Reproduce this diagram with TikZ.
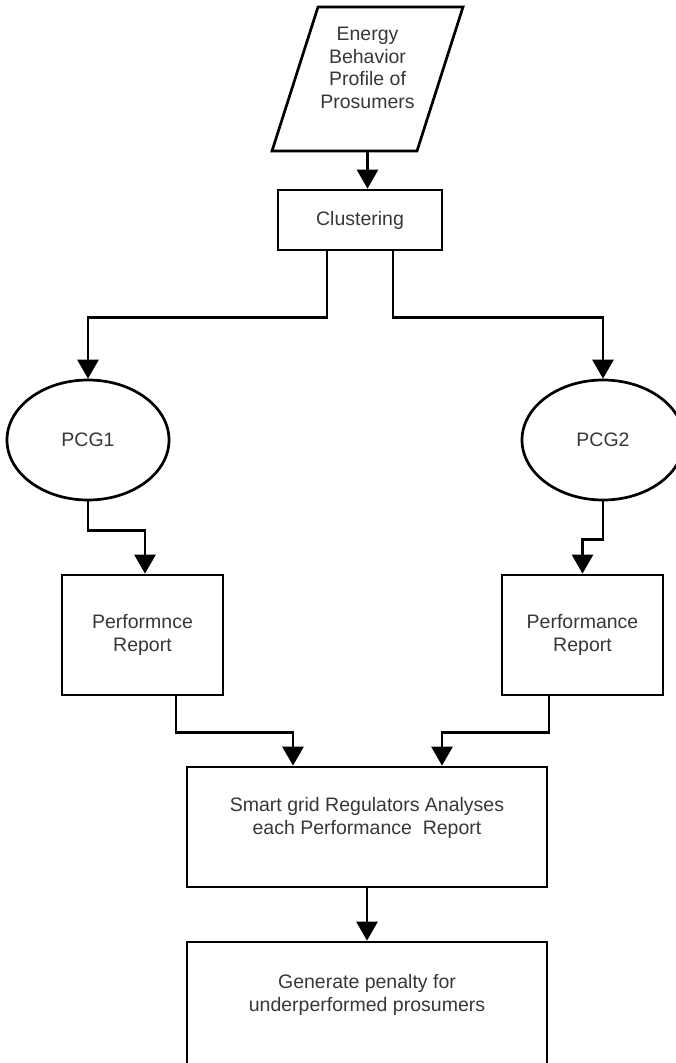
\documentclass[tikz,border=0pt]{standalone}
\usepackage{fontspec}
\setmainfont{Liberation Sans}
\usepackage{tikz}
\usetikzlibrary{shapes,arrows.meta,positioning}
\definecolor{mytext}{RGB}{55,55,55}

\begin{document}
\begin{tikzpicture}[x=1pt, y=-1pt, line width=2.7pt,
  every node/.style={font=\fontsize{19.5}{22.5}\selectfont, text=mytext, align=center},
  procbox/.style={draw, rectangle, inner sep=0pt},
  pcgnode/.style={draw, ellipse, minimum width=162pt, minimum height=120pt, inner sep=0pt},
  flow/.style={-{Triangle[length=19pt,width=21pt]}}]
  \useasboundingbox (0,0) rectangle (676,1063);
  % Input profile
  \node (prof) [minimum width=145pt, minimum height=144pt, inner sep=0pt, outer sep=0pt]
    at (367.5,79) {Energy\\Behavior\\Profile of\\Prosumers\\~};
  \draw ([xshift=23pt]prof.north west) -- ([xshift=23pt]prof.north east)
     -- ([xshift=-23pt]prof.south east) -- ([xshift=-23pt]prof.south west) -- cycle;
  % Process boxes
  \node (clus) [procbox, minimum width=164pt, minimum height=60pt] at (360,220) {Clustering};
  \node (pcg1) [pcgnode] at (88,440) {PCG1};
  \node (pcg2) [pcgnode] at (603,440) {PCG2};
  \node (perf1) [procbox, minimum width=161pt, minimum height=120pt] at (142.5,635) {Performnce\\Report};
  \node (perf2) [procbox, minimum width=161pt, minimum height=120pt] at (582.5,635) {Performance\\Report};
  \node (smart) [procbox, minimum width=360pt, minimum height=120pt]
    at (367,827) {Smart grid Regulators Analyses\\each Performance\ \ Report\\~};
  \node (gen) [procbox, minimum width=360pt, minimum height=124pt]
    at (367,1004) {Generate penalty for\\underperformed prosumers\\~};
  % Flow
  \draw[flow] (prof.south) -- (prof.south |- clus.north);
  \draw[flow] ([xshift=-33pt]clus.south) -- ++(0,66) -| (pcg1.north);
  \draw[flow] ([xshift=33pt]clus.south) -- ++(0,66) -| (pcg2.north);
  \draw[flow] (pcg1.south) -- ++(0,29) -| ([xshift=2.5pt]perf1.north);
  \draw[flow] (pcg2.south) -- ++(0,38) -| (perf2.north);
  \draw[flow] ([xshift=33.5pt]perf1.south) -- ++(0,36) -| ([xshift=-74pt]smart.north);
  \draw[flow] ([xshift=-33.5pt]perf2.south) -- ++(0,36) -| ([xshift=75pt]smart.north);
  \draw[flow] (smart.south) -- (gen.north);
\end{tikzpicture}
\end{document}
